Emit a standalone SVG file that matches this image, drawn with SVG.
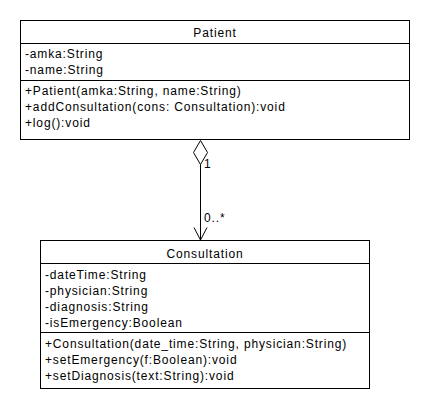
<svg xmlns="http://www.w3.org/2000/svg" width="430" height="410" viewBox="0 0 430 410">
<style>
.box{fill:#fff;stroke:#000;stroke-width:1}
.ln{stroke:#000;stroke-width:1;fill:none}
text{font-family:"Liberation Sans",Arial,sans-serif;font-size:12px;letter-spacing:0.85px;fill:#000}
.c{text-anchor:middle}
</style>
<rect width="430" height="410" fill="#fff"/>
<g id="Patient">
<rect class="box" x="20.5" y="20.5" width="389" height="119"/>
<line class="ln" x1="20.5" y1="43.5" x2="409.5" y2="43.5"/>
<line class="ln" x1="20.5" y1="80.5" x2="409.5" y2="80.5"/>
<text class="c" x="215" y="37">Patient</text>
<text x="25" y="58">-amka:String</text>
<text x="25" y="74">-name:String</text>
<text x="25" y="95">+Patient(amka:String, name:String)</text>
<text x="25" y="111">+addConsultation(cons: Consultation):void</text>
<text x="25" y="127">+log():void</text>
</g>
<g id="Consultation">
<rect class="box" x="40.5" y="240.5" width="329" height="148"/>
<line class="ln" x1="40.5" y1="263.5" x2="369.5" y2="263.5"/>
<line class="ln" x1="40.5" y1="332.5" x2="369.5" y2="332.5"/>
<text class="c" x="205" y="258">Consultation</text>
<text x="45" y="279">-dateTime:String</text>
<text x="45" y="295">-physician:String</text>
<text x="45" y="311">-diagnosis:String</text>
<text x="45" y="327">-isEmergency:Boolean</text>
<text x="45" y="348">+Consultation(date_time:String, physician:String)</text>
<text x="45" y="364">+setEmergency(f:Boolean):void</text>
<text x="45" y="380">+setDiagnosis(text:String):void</text>
</g>
<g id="connectors">
<polygon class="box" points="200.5,140.5 207.5,152.5 200.5,164.5 193.5,152.5"/>
<line class="ln" x1="200.5" y1="164.5" x2="200.5" y2="240"/>
<polyline class="ln" points="194,227.5 200.5,240 207,227.5"/>
<text x="204" y="168">1</text>
<text x="204" y="222">0..*</text>
</g>
</svg>
